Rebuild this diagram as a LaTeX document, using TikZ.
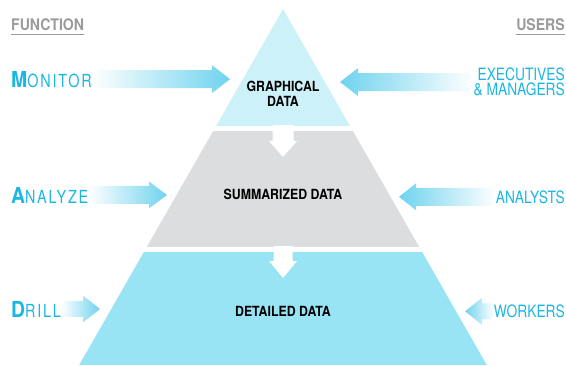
\documentclass[tikz,border=0pt]{standalone}
\usepackage{fontspec}
\setmainfont{TeX Gyre Heros}
\newfontfamily\condfont{TeX Gyre Heros}[FakeStretch=0.81]
\newfontfamily\spacedfont{TeX Gyre Heros}[FakeStretch=0.8,LetterSpace=10]
\newfontfamily\labelfont{TeX Gyre Heros}[FakeStretch=0.88]
\usetikzlibrary{calc}

\definecolor{tiertop}{HTML}{CDF1F9}
\definecolor{tiermid}{HTML}{DCDDDF}
\definecolor{tierlow}{HTML}{98E3F4}
\definecolor{textcyan}{HTML}{1BB6E2}
\definecolor{arrowcyan}{HTML}{6FD3EE}
\definecolor{headgray}{HTML}{9B9B9B}

% block arrow: [style]{tail}{tip}{shaft half width}{head half width}{head length}
\newcommand{\fatarrow}[6][]{%
  \coordinate (hb) at ($(#3)!#6!(#2)$);
  \path[#1] ($(#2)!#4!90:(#3)$) -- ($(hb)!#4!90:(#3)$) -- ($(hb)!#5!90:(#3)$) -- (#3)
    -- ($(hb)!#5!-90:(#3)$) -- ($(hb)!#4!-90:(#3)$) -- ($(#2)!#4!-90:(#3)$) -- cycle;}

\begin{document}
\begin{tikzpicture}[x=1pt,y=-1pt,
    head label/.style={inner sep=0pt,text=headgray,font=\labelfont\bfseries\fontsize{16}{16}\selectfont},
    func label/.style={inner sep=0pt,text=textcyan,font=\spacedfont\fontsize{18}{18}\selectfont},
    user label/.style={inner sep=0pt,text=textcyan,align=right,font=\condfont\fontsize{17}{15.5}\selectfont},
    tier label/.style={inner sep=0pt,align=center,font=\labelfont\bfseries\fontsize{14}{15}\selectfont},
    to right/.style={left color=white,right color=arrowcyan},
    to left/.style={left color=arrowcyan,right color=white}]
\useasboundingbox (0,0) rectangle (566,365);

% pyramid
\coordinate (apex) at (283,9);
\coordinate (bl) at (79.2,365);
\coordinate (br) at (486.8,365);
\fill[tiertop] (apex) -- ($(apex)!0.3287!(br)$) -- ($(apex)!0.3287!(bl)$) -- cycle;
\fill[tiermid] ($(apex)!0.3427!(bl)$) -- ($(apex)!0.3427!(br)$)
  -- ($(apex)!0.6685!(br)$) -- ($(apex)!0.6685!(bl)$) -- cycle;
\fill[tierlow] ($(apex)!0.6826!(bl)$) -- ($(apex)!0.6826!(br)$) -- (br) -- (bl) -- cycle;

\node[tier label] (graphical) at (283,94) {GRAPHICAL\\DATA};
\node[tier label] (summarized) at (283,194) {SUMMARIZED DATA};
\node[tier label] (detailed) at (283,311) {DETAILED DATA};

% white arrows between tiers
\coordinate (gap1) at (283,125);
\coordinate (gap1 tip) at (283,157);
\coordinate (gap2) at (283,246);
\coordinate (gap2 tip) at (283,278);
\fatarrow[fill=white]{gap1}{gap1 tip}{10.5pt}{14pt}{16pt}
\fatarrow[fill=white]{gap2}{gap2 tip}{9.5pt}{14pt}{17pt}

% headings
\node[head label,anchor=base west] (function) at (11,30) {FUNCTION};
\node[head label,anchor=base east] (users) at (565,30) {USERS};
\draw[headgray,line width=1.3pt] ($(function.base west)+(0,4.5)$) -- ($(function.base east)+(0,4.5)$);
\draw[headgray,line width=1.3pt] ($(users.base west)+(0,4.5)$) -- ($(users.base east)+(0,4.5)$);

% functions
\node[func label,anchor=base west] (monitor) at (11,87)
  {{\labelfont\bfseries\fontsize{22}{22}\selectfont M}ONITOR};
\node[func label,anchor=base west] (analyze) at (11,203)
  {{\labelfont\bfseries\fontsize{22}{22}\selectfont A}NALYZE};
\node[func label,anchor=base west] (drill) at (11,317)
  {{\labelfont\bfseries\fontsize{22}{22}\selectfont D}RILL};

% users
\node[user label,anchor=east] (executives) at (565,82) {EXECUTIVES\\\& MANAGERS};
\node[user label,anchor=base east] (analysts) at (565,203) {ANALYSTS};
\node[user label,anchor=base east] (workers) at (565,317.5) {WORKERS};

% arrows towards the pyramid
\coordinate (monitor tip) at (monitor.east -| 230,0);
\coordinate (analyze tip) at (analyze.east -| 167,0);
\coordinate (drill tip) at (drill.east -| 100,0);
\coordinate (executives tip) at (executives.west -| 340,0);
\coordinate (analysts tip) at (analysts.west -| 399,0);
\coordinate (workers tip) at (workers.west -| 465,0);
\fatarrow[to right]{monitor.east}{monitor tip}{9pt}{14pt}{18pt}
\fatarrow[to right]{analyze.east}{analyze tip}{9pt}{13.5pt}{18pt}
\fatarrow[to right]{drill.east}{drill tip}{8pt}{13.5pt}{17pt}
\fatarrow[to left]{executives.west}{executives tip}{9pt}{14pt}{18pt}
\fatarrow[to left]{analysts.west}{analysts tip}{9pt}{13.5pt}{17pt}
\fatarrow[to left]{workers.west}{workers tip}{8pt}{13.5pt}{17pt}
\end{tikzpicture}
\end{document}
